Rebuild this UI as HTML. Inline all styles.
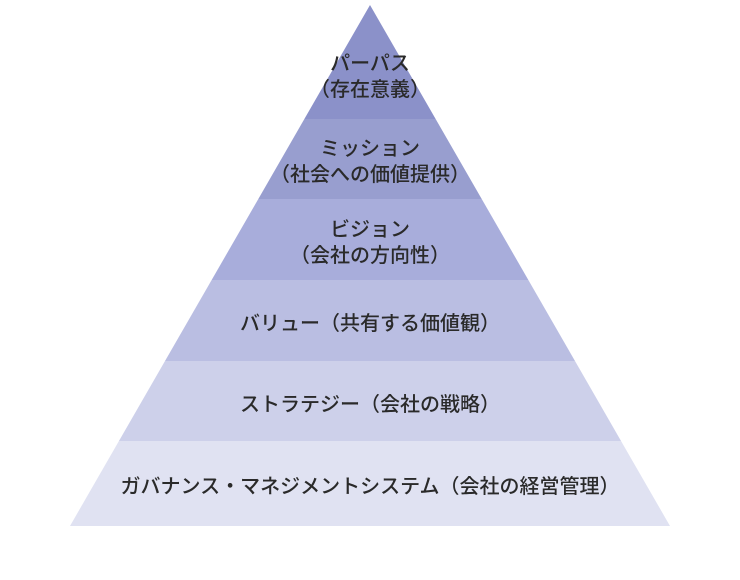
<!DOCTYPE html>
<html><head><meta charset="utf-8"><style>
html,body{margin:0;padding:0;background:#fff;width:740px;height:580px;overflow:hidden}
text{font-family:"Liberation Sans","Noto Sans CJK JP",sans-serif;font-size:20px;font-weight:500;fill:#2a2a2a;text-anchor:middle}
</style></head><body>
<svg width="740" height="580" viewBox="0 0 740 580" xmlns="http://www.w3.org/2000/svg">
<defs><clipPath id="c"><polygon points="370,5 70,526 670,526"/></clipPath></defs>
<g clip-path="url(#c)">
<rect x="0" y="0" width="740" height="119" fill="#8b91c9"/>
<rect x="0" y="119" width="740" height="80" fill="#989ecf"/>
<rect x="0" y="199" width="740" height="81" fill="#a8addb"/>
<rect x="0" y="280" width="740" height="81" fill="#babee2"/>
<rect x="0" y="361" width="740" height="80" fill="#cdd0ea"/>
<rect x="0" y="441" width="740" height="85" fill="#e0e2f2"/>
</g>
<text x="370" y="70">パーパス</text>
<text x="370" y="96">（存在意義）</text>
<text x="370" y="155">ミッション</text>
<text x="370" y="181">（社会への価値提供）</text>
<text x="370" y="236">ビジョン</text>
<text x="370" y="262">（会社の方向性）</text>
<text x="370" y="330">バリュー（共有する価値観）</text>
<text x="370" y="411">ストラテジー（会社の戦略）</text>
<text x="370" y="493">ガバナンス・マネジメントシステム（会社の経営管理）</text>
</svg>
</body></html>
